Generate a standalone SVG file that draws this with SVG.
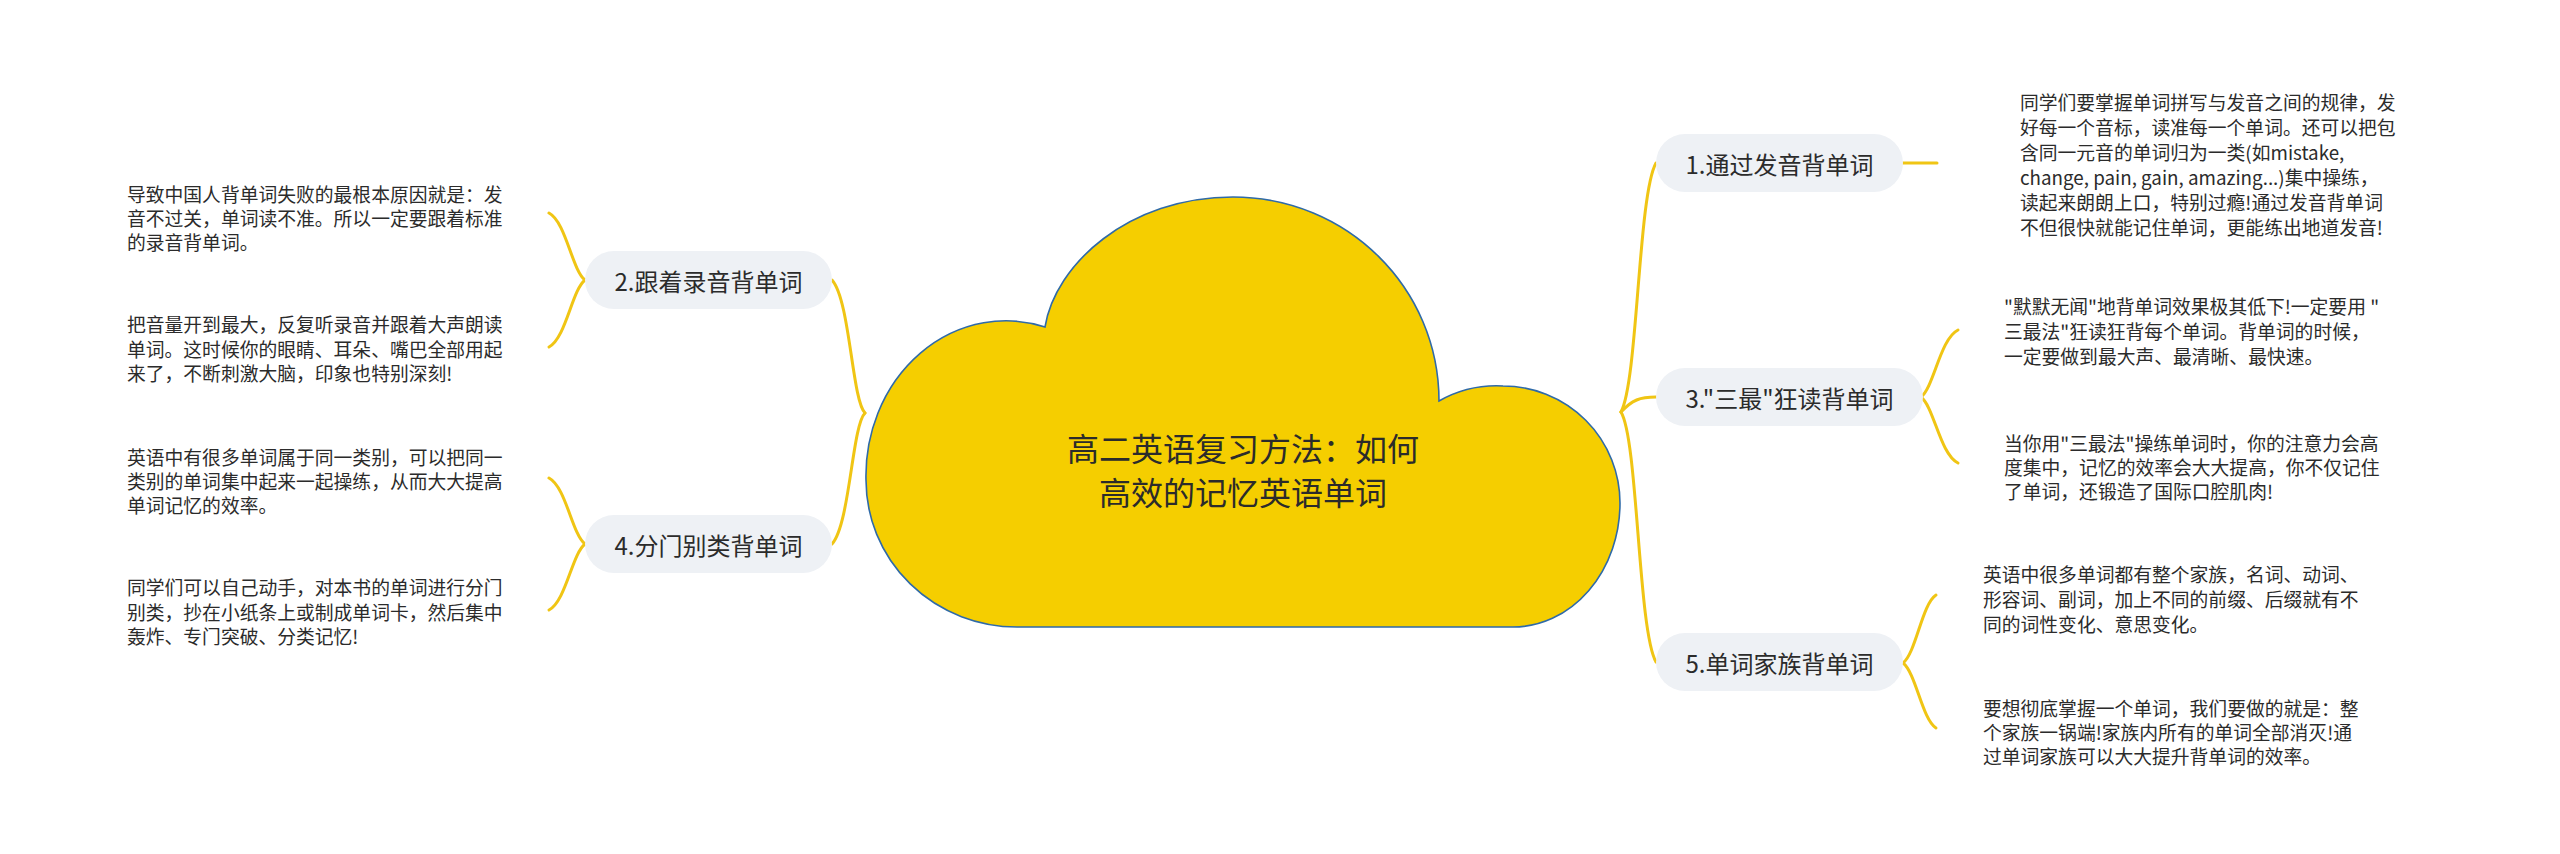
<svg xmlns="http://www.w3.org/2000/svg" width="2560" height="854" viewBox="0 0 2560 854">
<style>
.bg{fill:#ffffff}
.cloud{fill:#F5CE00;stroke:#2F6AA8;stroke-width:1.6}
.title{font-family:"Noto Sans CJK SC","Noto Sans",sans-serif;font-size:32px;fill:#2b2b2b;text-anchor:middle;dominant-baseline:central}
.node rect{fill:#EEF1F5}
.lbl{font-family:"Noto Sans CJK SC","Noto Sans",sans-serif;font-size:24px;fill:#2b2b2b;text-anchor:middle;dominant-baseline:central}
.txt{font-family:"Noto Sans CJK SC","Noto Sans",sans-serif;font-size:18.8px;fill:#2b2b2b;dominant-baseline:central}
.conn path{fill:none;stroke:#F0C514;stroke-width:3;stroke-linecap:round}
</style>
<rect class="bg" x="0" y="0" width="2560" height="854"/>
<g id="connectors" class="conn">
<path d="M865 413 C852 400,850 300,832 280"/>
<path d="M865 413 C852 426,850 524,832 544"/>
<path d="M1621 412 C1638 380,1638 195,1656 163"/>
<path d="M1621 412 C1632 400,1640 397,1656 397"/>
<path d="M1621 412 C1638 440,1638 630,1656 662"/>
<path d="M585 280 C572 270,566 222,549 213"/>
<path d="M585 280 C572 290,566 338,549 347"/>
<path d="M585 544 C572 534,566 487,549 478"/>
<path d="M585 544 C572 554,566 601,549 610"/>
<path d="M1903 163 L1937 163"/>
<path d="M1921 397 C1934 387,1940 339,1958 330"/>
<path d="M1921 397 C1934 407,1940 454,1958 463"/>
<path d="M1903 663 C1916 653,1922 604,1936 595"/>
<path d="M1903 663 C1916 673,1922 719,1936 728"/>
</g>
<g id="root">
<path class="cloud" d="M1017 627 L1513 627 A107 124 0 0 0 1620 503 A117 117 0 0 0 1503 386 A117 117 0 0 0 1439 401 C1439 288,1347 197,1233 197 C1128 197,1055 265,1045 327 A140 155 0 0 0 866 480 A151 147 0 0 0 1017 627 Z"/>
<text class="title" x="1243" y="447">高二英语复习方法：如何</text>
<text class="title" x="1243" y="491">高效的记忆英语单词</text>
</g>
<g id="n1" class="node"><rect x="1656" y="134" width="247" height="58" rx="29"/><text class="lbl" x="1779.5" y="163">1.通过发音背单词</text></g>
<g id="n3" class="node"><rect x="1656" y="368" width="267" height="58" rx="29"/><text class="lbl" x="1789.5" y="397">3."三最"狂读背单词</text></g>
<g id="n5" class="node"><rect x="1656" y="633" width="247" height="58" rx="29"/><text class="lbl" x="1779.5" y="662">5.单词家族背单词</text></g>
<g id="n2" class="node"><rect x="585" y="251" width="247" height="58" rx="29"/><text class="lbl" x="708.5" y="280">2.跟着录音背单词</text></g>
<g id="n4" class="node"><rect x="585" y="515" width="247" height="58" rx="29"/><text class="lbl" x="708.5" y="544">4.分门别类背单词</text></g>
<g id="t1">
<text class="txt" x="2020" y="101">同学们要掌握单词拼写与发音之间的规律，发</text>
<text class="txt" x="2020" y="126">好每一个音标，读准每一个单词。还可以把包</text>
<text class="txt" x="2020" y="151">含同一元音的单词归为一类(如mistake,</text>
<text class="txt" x="2020" y="176">change, pain, gain, amazing...)集中操练，</text>
<text class="txt" x="2020" y="201">读起来朗朗上口，特别过瘾!通过发音背单词</text>
<text class="txt" x="2020" y="226">不但很快就能记住单词，更能练出地道发音!</text>
</g>
<g id="t3a">
<text class="txt" x="2004" y="305">"默默无闻"地背单词效果极其低下!一定要用 "</text>
<text class="txt" x="2004" y="330">三最法"狂读狂背每个单词。背单词的时候，</text>
<text class="txt" x="2004" y="355">一定要做到最大声、最清晰、最快速。</text>
</g>
<g id="t3b">
<text class="txt" x="2004" y="442">当你用"三最法"操练单词时，你的注意力会高</text>
<text class="txt" x="2004" y="466">度集中，记忆的效率会大大提高，你不仅记住</text>
<text class="txt" x="2004" y="490">了单词，还锻造了国际口腔肌肉!</text>
</g>
<g id="t5a">
<text class="txt" x="1983" y="573">英语中很多单词都有整个家族，名词、动词、</text>
<text class="txt" x="1983" y="598">形容词、副词，加上不同的前缀、后缀就有不</text>
<text class="txt" x="1983" y="623">同的词性变化、意思变化。</text>
</g>
<g id="t5b">
<text class="txt" x="1983" y="707">要想彻底掌握一个单词，我们要做的就是：整</text>
<text class="txt" x="1983" y="731">个家族一锅端!家族内所有的单词全部消灭!通</text>
<text class="txt" x="1983" y="755">过单词家族可以大大提升背单词的效率。</text>
</g>
<g id="t2a">
<text class="txt" x="127" y="193">导致中国人背单词失败的最根本原因就是：发</text>
<text class="txt" x="127" y="217">音不过关，单词读不准。所以一定要跟着标准</text>
<text class="txt" x="127" y="241">的录音背单词。</text>
</g>
<g id="t2b">
<text class="txt" x="127" y="323">把音量开到最大，反复听录音并跟着大声朗读</text>
<text class="txt" x="127" y="348">单词。这时候你的眼睛、耳朵、嘴巴全部用起</text>
<text class="txt" x="127" y="372">来了，不断刺激大脑，印象也特别深刻!</text>
</g>
<g id="t4a">
<text class="txt" x="127" y="456">英语中有很多单词属于同一类别，可以把同一</text>
<text class="txt" x="127" y="480">类别的单词集中起来一起操练，从而大大提高</text>
<text class="txt" x="127" y="504">单词记忆的效率。</text>
</g>
<g id="t4b">
<text class="txt" x="127" y="586">同学们可以自己动手，对本书的单词进行分门</text>
<text class="txt" x="127" y="611">别类，抄在小纸条上或制成单词卡，然后集中</text>
<text class="txt" x="127" y="635">轰炸、专门突破、分类记忆!</text>
</g>
</svg>
